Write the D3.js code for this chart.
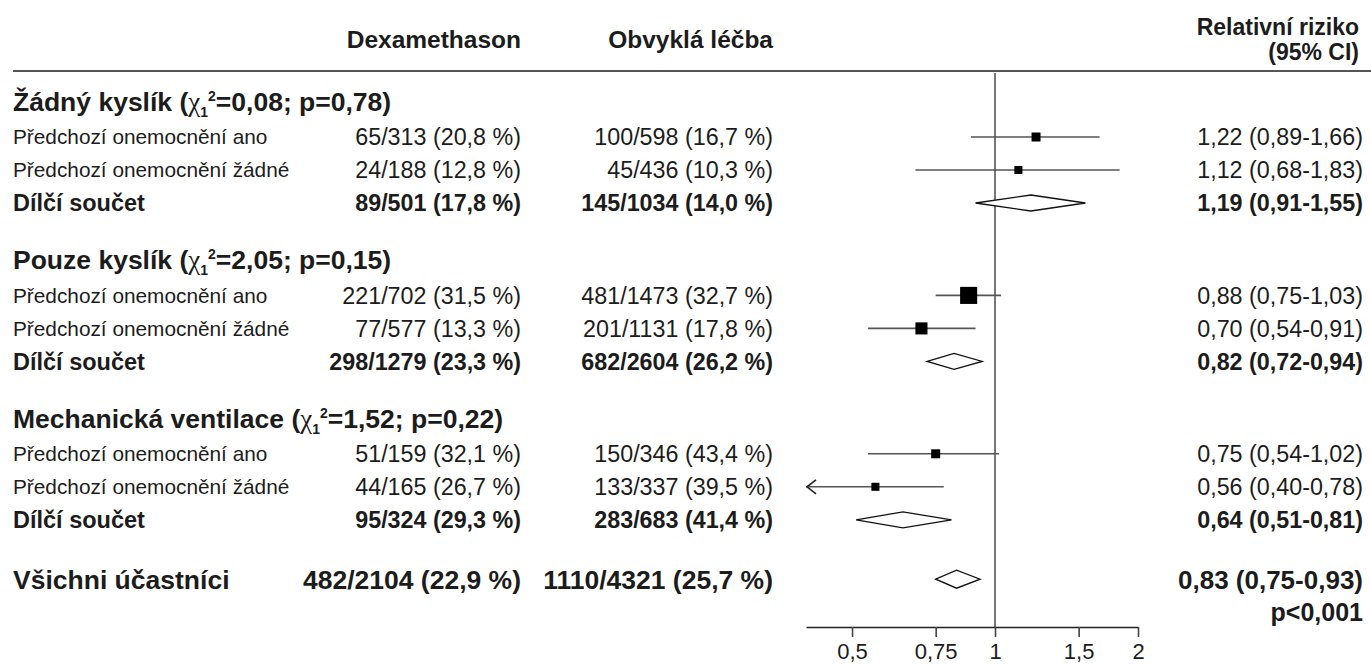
<!DOCTYPE html>
<html>
<head>
<meta charset="utf-8">
<script src="https://cdn.jsdelivr.net/npm/d3@7"></script>
<style>
  html, body { margin: 0; padding: 0; background: #fff; }
  svg { display: block; font-family: "Liberation Sans", Arial, sans-serif; }
</style>
</head>
<body>
<svg id="chart" width="1371" height="664"></svg>
<script>
// ---------------- data ----------------
const groupNames = ["Žádný kyslík", "Pouze kyslík", "Mechanická ventilace"];
const chiValues = ["0,08", "2,05", "1,52"];
const pValues = ["0,78", "0,15", "0,22"];
const rowLabels = ["Předchozí onemocnění ano", "Předchozí onemocnění žádné", "Dílčí součet"];

// per group: [ano, žádné, dílčí součet] as [events, total, percent]
const dexaData = [
  [[65, 313, 20.8], [24, 188, 12.8], [89, 501, 17.8]],
  [[221, 702, 31.5], [77, 577, 13.3], [298, 1279, 23.3]],
  [[51, 159, 32.1], [44, 165, 26.7], [95, 324, 29.3]]
];
const usualData = [
  [[100, 598, 16.7], [45, 436, 10.3], [145, 1034, 14.0]],
  [[481, 1473, 32.7], [201, 1131, 17.8], [682, 2604, 26.2]],
  [[150, 346, 43.4], [133, 337, 39.5], [283, 683, 41.4]]
];
// relative risks [estimate, lower, upper]
const rrData = [
  [[1.22, 0.89, 1.66], [1.12, 0.68, 1.83], [1.19, 0.91, 1.55]],
  [[0.88, 0.75, 1.03], [0.70, 0.54, 0.91], [0.82, 0.72, 0.94]],
  [[0.75, 0.54, 1.02], [0.56, 0.40, 0.78], [0.64, 0.51, 0.81]]
];
// relative weights of the individual estimates (box area)
const boxWeights = [[1.0, 0.8], [3.6, 1.8], [1.0, 0.8]];

const overallLabel = "Všichni účastníci";
const overallDexa = [482, 2104, 22.9];
const overallUsual = [1110, 4321, 25.7];
const overallRR = [0.83, 0.75, 0.93];
const overallP = "p<0,001";

const headerDexa = "Dexamethason";
const headerUsual = "Obvyklá léčba";
const headerRR = ["Relativní riziko", "(95% CI)"];
const axisTicks = [0.5, 0.75, 1, 1.5, 2];

// ---------------- helpers ----------------
const comma = s => s.replace(".", ",");
const f2 = d3.format(".2f"), f1 = d3.format(".1f");
const fmtN = d => `${d[0]}/${d[1]} (${comma(f1(d[2]))} %)`;
const fmtRR = d => `${comma(f2(d[0]))} (${comma(f2(d[1]))}-${comma(f2(d[2]))})`;

// build row list
const rows = [];
let slot = 0;
groupNames.forEach((g, gi) => {
  rows.push({ type: "heading", slot, gi });
  for (let r = 0; r < 3; r++) {
    slot += 1;
    rows.push({
      type: r < 2 ? "row" : "subtotal", slot, gi, r,
      label: rowLabels[r],
      dexa: dexaData[gi][r], usual: usualData[gi][r], rr: rrData[gi][r],
      w: r < 2 ? boxWeights[gi][r] : null
    });
  }
  slot += 1.8;
});
rows.push({ type: "overall", slot: slot, label: overallLabel, dexa: overallDexa, usual: overallUsual, rr: overallRR });

// ---------------- scales ----------------
const svg = d3.select("#chart");
const y = d3.scaleLinear().domain([0, 1]).range([104, 137]);
const x = d3.scaleLog().domain([0.4, 2]).range([806, 1138]);
const boxSize = d3.scaleSqrt().domain([0, 1]).range([0, 9]);

const colLabel = 13, colDexa = 521, colUsual = 773, colRR = 1363;
const axisY = 627, headerLineY = 71;
const textCol = "#1c1c1c";

// ---------------- header ----------------
svg.append("text").attr("x", colDexa).attr("y", 48).attr("text-anchor", "end")
  .attr("font-weight", "bold").attr("font-size", 24.5).attr("fill", textCol).text(headerDexa);
svg.append("text").attr("x", colUsual).attr("y", 48).attr("text-anchor", "end")
  .attr("font-weight", "bold").attr("font-size", 24.5).attr("fill", textCol).text(headerUsual);
headerRR.forEach((t, i) => {
  svg.append("text").attr("x", colRR - 4).attr("y", 35 + i * 25).attr("text-anchor", "end")
    .attr("font-weight", "bold").attr("font-size", 23).attr("fill", textCol).text(t);
});
svg.append("line").attr("x1", 13).attr("x2", 1371).attr("y1", headerLineY).attr("y2", headerLineY)
  .attr("stroke", "#555").attr("stroke-width", 2);

// ---------------- reference line ----------------
svg.append("line").attr("x1", x(1)).attr("x2", x(1)).attr("y1", headerLineY + 2).attr("y2", axisY)
  .attr("stroke", "#777").attr("stroke-width", 2);

// ---------------- rows ----------------
rows.forEach(d => {
  const cy = y(d.slot);
  if (d.type === "heading") {
    const t = svg.append("text").attr("x", colLabel).attr("y", cy + 7)
      .attr("font-weight", "bold").attr("font-size", 26.5).attr("fill", textCol);
    t.append("tspan").text(groupNames[d.gi] + " (");
    t.append("tspan").attr("font-family", "Liberation Serif, serif").attr("font-weight", "normal")
      .attr("font-size", 27).text("χ");
    t.append("tspan").attr("font-size", 14).attr("dy", 6).text("1");
    t.append("tspan").attr("font-size", 14).attr("dy", -16).text("2");
    t.append("tspan").attr("dy", 10).text(`=${chiValues[d.gi]}; p=${pValues[d.gi]})`);
    return;
  }
  const bold = d.type !== "row";
  const big = d.type === "overall";
  const fsLabel = big ? 26.5 : (bold ? 23.5 : 20.8);
  const fsNum = big ? 26.5 : 23.3;
  const fsRR = big ? 26 : 23.3;
  svg.append("text").attr("x", colLabel).attr("y", cy).attr("dy", "0.36em")
    .attr("font-weight", bold ? "bold" : "normal").attr("font-size", fsLabel).attr("fill", textCol).text(d.label);
  svg.append("text").attr("x", colDexa).attr("y", cy).attr("dy", "0.36em").attr("text-anchor", "end")
    .attr("font-weight", bold ? "bold" : "normal").attr("font-size", fsNum).attr("fill", textCol).text(fmtN(d.dexa));
  svg.append("text").attr("x", colUsual).attr("y", cy).attr("dy", "0.36em").attr("text-anchor", "end")
    .attr("font-weight", bold ? "bold" : "normal").attr("font-size", fsNum).attr("fill", textCol).text(fmtN(d.usual));
  svg.append("text").attr("x", colRR).attr("y", cy).attr("dy", "0.36em").attr("text-anchor", "end")
    .attr("font-weight", bold ? "bold" : "normal").attr("font-size", fsRR).attr("fill", textCol).text(fmtRR(d.rr));
  if (big) {
    svg.append("text").attr("x", colRR).attr("y", cy + 33).attr("dy", "0.36em").attr("text-anchor", "end")
      .attr("font-weight", "bold").attr("font-size", 25).attr("fill", textCol).text(overallP);
  }

  const [est, lo, hi] = d.rr;
  if (d.type === "row") {
    const x0 = Math.max(x(lo), x.range()[0]);
    svg.append("line").attr("x1", x0).attr("x2", x(hi)).attr("y1", cy).attr("y2", cy)
      .attr("stroke", "#555").attr("stroke-width", 1.6);
    if (lo <= x.domain()[0]) {
      svg.append("path")
        .attr("d", `M${x0 + 10},${cy - 7}L${x0 + 1},${cy}L${x0 + 10},${cy + 7}`)
        .attr("fill", "none").attr("stroke", "#222").attr("stroke-width", 1.6);
    }
    const s = boxSize(d.w);
    svg.append("rect").attr("x", x(est) - s / 2).attr("y", cy - s / 2).attr("width", s).attr("height", s)
      .attr("fill", "#000");
  } else {
    const h = big ? 9 : 8;
    svg.append("path")
      .attr("d", `M${x(lo)},${cy}L${x(est)},${cy - h}L${x(hi)},${cy}L${x(est)},${cy + h}Z`)
      .attr("fill", "#fff").attr("stroke", "#111").attr("stroke-width", 1.3);
  }
});

// ---------------- axis ----------------
const axis = d3.axisBottom(x).tickValues(axisTicks)
  .tickFormat(v => comma(String(v))).tickSize(10).tickSizeOuter(0).tickPadding(6);
const ga = svg.append("g").attr("transform", `translate(0,${axisY})`).call(axis);
ga.select(".domain").attr("stroke", "#222").attr("stroke-width", 1.6);
ga.selectAll(".tick line").attr("stroke", "#444").attr("stroke-width", 1.6);
ga.selectAll(".tick text").attr("font-size", 22).attr("fill", textCol)
  .attr("font-family", "Liberation Sans, Arial, sans-serif");
</script>
</body>
</html>
